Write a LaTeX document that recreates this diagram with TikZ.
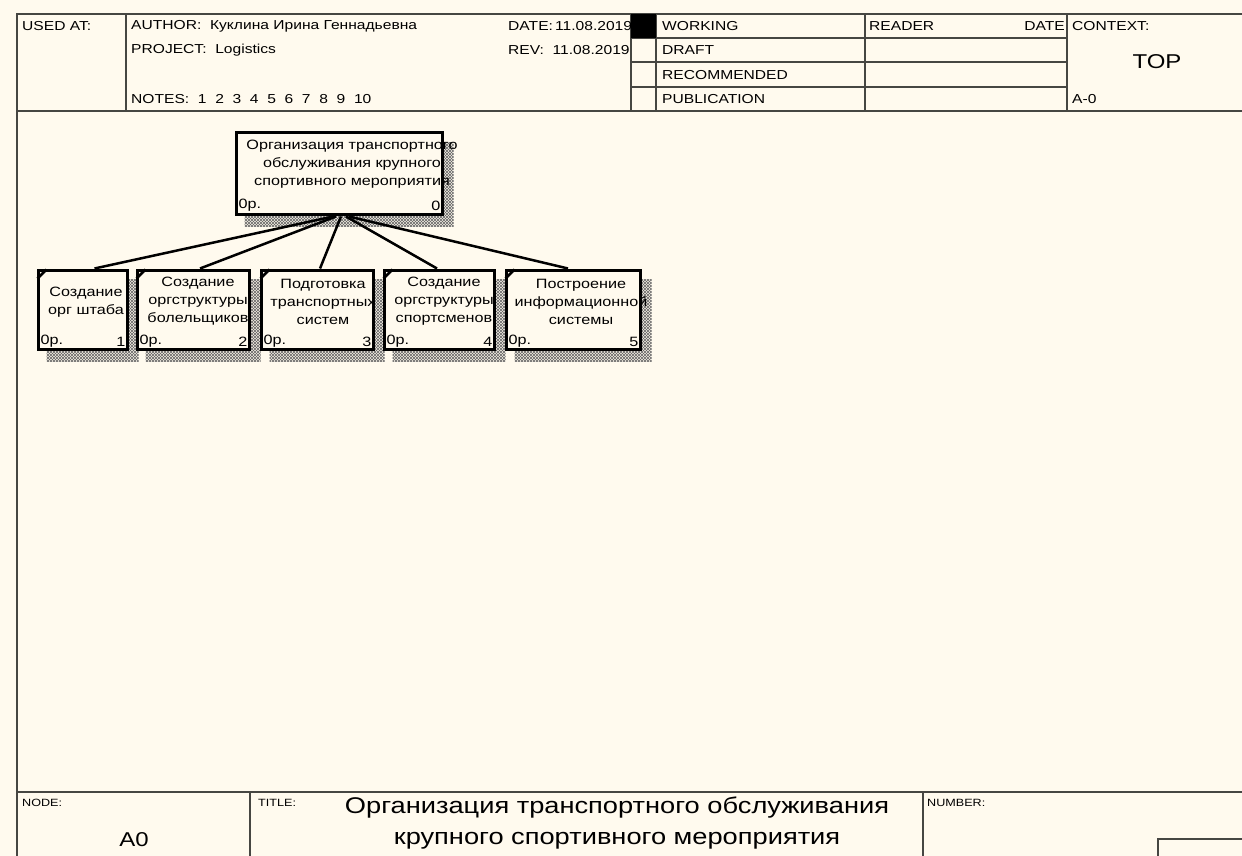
\documentclass[tikz,border=0pt]{standalone}
\usepackage{fontspec}
\setmainfont{Liberation Sans}[FakeStretch=1.2]
\usetikzlibrary{patterns}
\definecolor{bg}{RGB}{255,250,238}
\definecolor{framec}{RGB}{70,70,66}
\pgfdeclarelayer{bglayer}
\pgfdeclarelayer{shadowlayer}
\pgfsetlayers{bglayer,shadowlayer,main}
\pgfdeclarepatternformonly{idefhatch}{\pgfqpoint{-0.5pt}{-0.5pt}}{\pgfqpoint{3.5pt}{3.5pt}}{\pgfqpoint{3pt}{3pt}}{%
  \pgfsetlinewidth{0.6pt}%
  \pgfpathmoveto{\pgfqpoint{0pt}{0pt}}\pgfpathlineto{\pgfqpoint{3pt}{3pt}}%
  \pgfpathmoveto{\pgfqpoint{0pt}{3pt}}\pgfpathlineto{\pgfqpoint{3pt}{0pt}}%
  \pgfusepath{stroke}}
\tikzset{
  frameline/.style={draw=framec, line width=1.6pt},
  hdr/.style={font=\fontsize{13}{15}\selectfont, anchor=west, inner sep=0pt},
  small/.style={font=\fontsize{10.5}{12}\selectfont, anchor=west, inner sep=0pt},
  actbox/.style={draw=black, line width=3pt, fill=bg, rectangle, inner sep=0pt, minimum height=79pt},
  boxtxt/.style={font=\fontsize{13.5}{18}\selectfont, align=center, inner sep=0pt},
  boxlbl/.style={font=\fontsize{13.5}{15}\selectfont, inner sep=0pt},
  hatch/.style={pattern=idefhatch, pattern color=black!60},
  conn/.style={draw=black, line width=2.5pt},
  corner/.style={draw=black, line width=2.6pt}
}
\begin{document}
\begin{tikzpicture}[x=1pt,y=-1pt]
\useasboundingbox (0,0) rectangle (1242,856);
\begin{pgfonlayer}{bglayer}
\fill[bg] (0,0) rectangle (1242,856);
\end{pgfonlayer}

% ---------- frame ----------
\draw[frameline] (1242,14) -- (17,14) -- (17,856);
\draw[frameline] (17,111) -- (1242,111);
\draw[frameline] (17,792) -- (1242,792);
\foreach \xx in {126,631,656,865,1067} \draw[frameline] (\xx,14) -- (\xx,111);
\foreach \yy in {38,62,87} \draw[frameline] (631,\yy) -- (1067,\yy);
\draw[frameline] (250,792) -- (250,856);
\draw[frameline] (923,792) -- (923,856);
\draw[frameline] (1250,839) -- (1158,839) -- (1158,860);

% ---------- header texts ----------
\node[hdr] (usedat) at (22,26) {USED AT:};
\node[hdr] (author) at (131,26) {AUTHOR:\ \ Куклина Ирина Геннадьевна};
\node[hdr] (project) at (131,50) {PROJECT:\ \ Logistics};
\node[hdr] (notes) at (131,99) {NOTES:\ \ 1\ \ 2\ \ 3\ \ 4\ \ 5\ \ 6\ \ 7\ \ 8\ \ 9\ \ 10};
\node[hdr] (date) at (508,26) {DATE:\,11.08.2019};
\node[hdr] (rev) at (508,50) {REV:\ \ 11.08.2019};
\fill[black] (631,14) rectangle (656,38);
\node[hdr] (working) at (662,26) {WORKING};
\node[hdr] (draft) at (662,50) {DRAFT};
\node[hdr] (recom) at (662,75) {RECOMMENDED};
\node[hdr] (publ) at (662,99) {PUBLICATION};
\node[hdr] (reader) at (869,26) {READER};
\node[hdr, anchor=east] (rdate) at (1065,26) {DATE};
\node[hdr] (context) at (1072,26) {CONTEXT:};
\node[font=\fontsize{20}{24}\selectfont, inner sep=0pt] (top) at (1157,62) {TOP};
\node[hdr] (azero) at (1072,99) {A-0};

% ---------- footer texts ----------
\node[small] (nodelbl) at (22,803) {NODE:};
\node[font=\fontsize{20}{24}\selectfont, inner sep=0pt] (nodeval) at (134,840) {A0};
\node[small] (titlelbl) at (258,803) {TITLE:};
\node[font=\fontsize{22.7}{31}\selectfont, align=center, inner sep=0pt] (title) at (617,823.5)
  {Организация транспортного обслуживания\\крупного спортивного мероприятия};
\node[small] (numlbl) at (927,803) {NUMBER:};

% ---------- activity boxes ----------
\node[actbox, minimum width=206pt, minimum height=81pt] (A0) at (339,173.5) {};
\node[actbox, minimum width=89pt] (B1) at (82.5,309.5) {};
\node[actbox, minimum width=112pt] (B2) at (193,309.5) {};
\node[actbox, minimum width=112pt] (B3) at (317,309.5) {};
\node[actbox, minimum width=110pt] (B4) at (439,309.5) {};
\node[actbox, minimum width=134pt] (B5) at (573,309.5) {};

\begin{pgfonlayer}{shadowlayer}
\foreach \b in {A0,B1,B2,B3,B4,B5}
  \fill[hatch] ([shift={(10,11)}]\b.north west) rectangle ([shift={(10,11)}]\b.south east);
\end{pgfonlayer}

\foreach \b in {B1,B2,B3,B4,B5}
  \draw[corner] ([shift={(1,10)}]\b.north west) -- ([shift={(10,1)}]\b.north west);

% box texts
\node[boxtxt] (tA0) at (352,164.5) {Организация транспортного\\обслуживания крупного\\спортивного мероприятия};
\node[boxtxt] (tB1) at (86,302.5) {Создание\\орг штаба};
\node[boxtxt] (tB2) at (198,301.5) {Создание\\оргструктуры\\болельщиков};
\node[boxtxt] (tB3) at (323,301.5) {Подготовка\\транспортных\\систем};
\node[boxtxt] (tB4) at (444,301.5) {Создание\\оргструктуры\\спортсменов};
\node[boxtxt] (tB5) at (581,301.5) {Построение\\информационной\\системы};

% box labels
\node[boxlbl, anchor=west] (pA0) at ([shift={(4,-10)}]A0.south west) {0р.};
\node[boxlbl, anchor=east] (nA0) at ([shift={(-3,-10)}]A0.south east) {0};
\foreach \b/\n in {B1/1,B2/2,B3/3,B4/4,B5/5}{
  \node[boxlbl, anchor=west] (p\b) at ([shift={(4,-9)}]\b.south west) {0р.};
  \node[boxlbl, anchor=east] (n\b) at ([shift={(-3,-9)}]\b.south east) {\n};
}

% ---------- connectors ----------
\draw[conn] ([shift={(-6,1)}]A0.south) -- ([xshift=12pt]B1.north);
\draw[conn] ([shift={(-3,1)}]A0.south) -- ([xshift=7pt]B2.north);
\draw[conn] ([shift={(2,1)}]A0.south) -- ([xshift=3pt]B3.north);
\draw[conn] ([shift={(7,1)}]A0.south) -- ([xshift=-2pt]B4.north);
\draw[conn] ([shift={(10,1)}]A0.south) -- ([xshift=-5pt]B5.north);
\end{tikzpicture}
\end{document}
